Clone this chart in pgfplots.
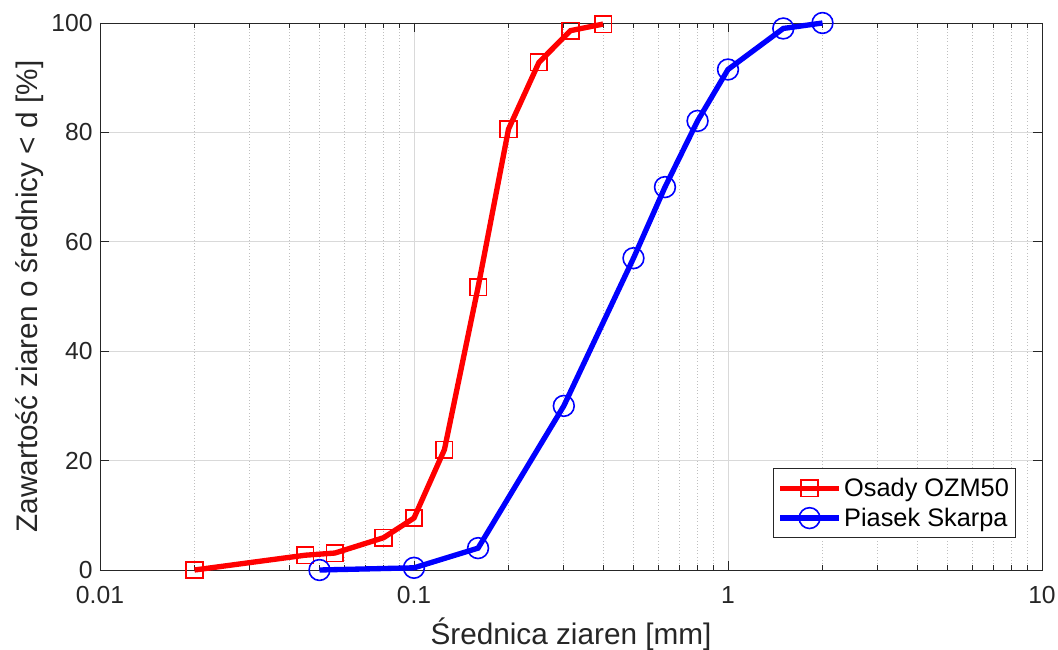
\documentclass[border=0pt]{standalone}
\usepackage{fontspec}
\setmainfont{Liberation Sans}
\usepackage{pgfplots}
\pgfplotsset{compat=1.18}
\definecolor{axgray}{rgb}{0.15,0.15,0.15}
\begin{document}
\begin{tikzpicture}
\path[use as bounding box] (-75pt,-60pt) rectangle (718.5pt,427.5pt);
\begin{axis}[
  at={(0,0)}, anchor=south west, scale only axis,
  width=706.5pt, height=410.25pt,
  xmode=log, xmin=0.01, xmax=10, ymin=0, ymax=100,
  xtick={0.01,0.1,1,10}, xticklabels={0.01,0.1,1,10},
  ytick={0,20,40,60,80,100},
  /pgf/number format/assume math mode=true,
  grid=both,
  major grid style={black!15, line width=0.6pt},
  minor grid style={black!25, dotted, line width=0.6pt},
  tick align=inside, major tick length=7pt, minor tick length=4pt,
  axis line style={axgray, line width=0.6pt},
  every tick/.style={axgray, line width=0.6pt},
  tick label style={font=\fontsize{18.5}{21}\selectfont, text=axgray},
  xticklabel style={yshift=-9pt},
  yticklabel style={xshift=-2pt},
  clip=false,
  xlabel={Średnica ziaren [mm]},
  ylabel={Zawartość ziaren o średnicy < d [\%]},
  xlabel style={at={(axis description cs:0.5,0)}, anchor=base, yshift=-56pt, font=\fontsize{22.3}{26}\selectfont, text=axgray},
  ylabel style={at={(axis description cs:0,0.5)}, anchor=base, yshift=47pt, font=\fontsize{22.3}{26}\selectfont, text=axgray},
  legend style={at={(0.9724,0.0585)}, anchor=south east, font=\fontsize{19}{22}\selectfont,
    draw=axgray, line width=0.6pt, inner xsep=3pt, inner ysep=5pt, row sep=3pt},
  legend cell align=left,
]
\addplot[red, line width=4pt, mark=square, mark size=6.2pt,
  mark options={line width=1.2pt, fill=none, solid},
  legend image code/.code={\draw[mark repeat=2,mark phase=2] plot coordinates {(0pt,0pt) (22pt,0pt) (44pt,0pt)};}]
  coordinates {(0.02,0) (0.045,2.7) (0.056,3.1) (0.08,5.9) (0.1,9.5) (0.125,22) (0.16,51.7) (0.2,80.6) (0.25,92.8) (0.315,98.6) (0.4,99.8)};
\addlegendentry{Osady OZM50}
\addplot[blue, line width=4pt, mark=o, mark size=7.8pt,
  mark options={line width=1.2pt, fill=none, solid},
  legend image code/.code={\draw[mark repeat=2,mark phase=2] plot coordinates {(0pt,0pt) (22pt,0pt) (44pt,0pt)};}]
  coordinates {(0.05,0) (0.1,0.4) (0.16,4) (0.3,30) (0.5,57) (0.63,70) (0.8,82.1) (1,91.5) (1.5,99) (2,100)};
\addlegendentry{Piasek Skarpa}
\end{axis}
\end{tikzpicture}
\end{document}
